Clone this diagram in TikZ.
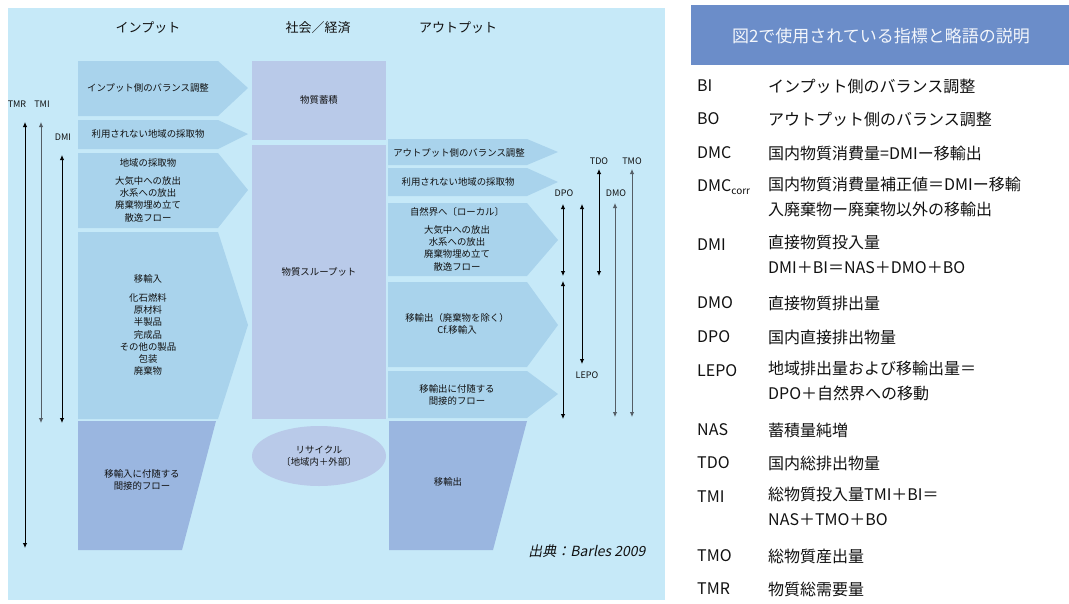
\documentclass[tikz,border=0pt]{standalone}
\usepackage{fontspec}
\setmainfont{Noto Sans CJK JP}
\newfontfamily\slfont{Noto Sans CJK JP}[FakeSlant=0.2]
\usetikzlibrary{arrows.meta,shapes.geometric}
\definecolor{panel}{HTML}{C6E9F8}
\definecolor{lightarr}{HTML}{A9D3EC}
\definecolor{center}{HTML}{B9CAE9}
\definecolor{darkbox}{HTML}{9AB6E0}
\definecolor{titlebox}{HTML}{6B8DC9}
\definecolor{txtc}{HTML}{111111}
\definecolor{grayline}{HTML}{555E66}
\begin{document}
\begin{tikzpicture}[x=1pt,y=-1pt,
  lt/.style={fill=lightarr,draw=none},
  ctr/.style={fill=center,draw=none},
  dk/.style={fill=darkbox,draw=none},
  txt/.style={font=\fontsize{9.4}{12.3}\selectfont,align=center,inner sep=0pt,text=txtc},
  hdr/.style={font=\fontsize{13}{15}\selectfont,inner sep=0pt,text=txtc},
  lbl/.style={font=\fontsize{9}{10}\selectfont,inner sep=0pt,text=txtc},
  dbl/.style={{Latex[length=5pt,width=4.5pt]}-{Latex[length=5pt,width=4.5pt]},line width=0.9pt},
  dblg/.style={dbl,draw=grayline},
  abbr/.style={font=\fontsize{16}{18}\selectfont,anchor=west,inner sep=0pt,text=txtc},
  desc/.style={font=\fontsize{16}{25}\selectfont,anchor=north west,align=left,inner sep=0pt,text=txtc}]
\useasboundingbox (0,0) rectangle (1069,603);
\fill[white] (0,0) rectangle (1069,603);
\fill[panel] (8,8) rectangle (665,600);

% headers
\node[hdr] (hIn) at (148,28) {インプット};
\node[hdr] (hSoc) at (318,28) {社会／経済};
\node[hdr] (hOut) at (458,28) {アウトプット};

% input arrows
\fill[lt] (78,61) -- (218,61) -- (248,88) -- (218,116) -- (78,116) -- cycle;
\node[txt] (in1) at (148,88) {インプット側のバランス調整};
\fill[lt] (78,120) -- (218,120) -- (248,134) -- (218,149) -- (78,149) -- cycle;
\node[txt] (in2) at (148,134) {利用されない地域の採取物};
\fill[lt] (78,153) -- (218,153) -- (248,190) -- (218,228) -- (78,228) -- cycle;
\node[txt] (in3a) at (148,163) {地域の採取物};
\node[txt,anchor=north] (in3b) at (148,176) {大気中への放出\\水系への放出\\廃棄物埋め立て\\散逸フロー};
\fill[lt] (78,232) -- (218,232) -- (248,325) -- (218,419) -- (78,419) -- cycle;
\node[txt] (in4a) at (148,279) {移輸入};
\node[txt,anchor=north] (in4b) at (148,293) {化石燃料\\原材料\\半製品\\完成品\\その他の製品\\包装\\廃棄物};
\fill[dk] (78,421) -- (216,421) -- (182,550) -- (78,550) -- cycle;
\node[txt] (in5) at (142,480) {移輸入に付随する\\間接的フロー};

% centre
\fill[ctr] (252,61) rectangle (386,140);
\node[txt] (stock) at (319,100) {物質蓄積};
\fill[ctr] (252,145) rectangle (386,419);
\node[txt] (thru) at (319,272) {物質スループット};
\node[ellipse,fill=center,minimum width=134pt,minimum height=60pt,inner sep=0pt] (recyc) at (319,456) {};
\node[txt] (recyct) at (319,456) {リサイクル\\〔地域内＋外部〕};

% output arrows
\fill[lt] (388,139) -- (527,139) -- (558,152) -- (527,165) -- (388,165) -- cycle;
\node[txt] (out1) at (459,153) {アウトプット側のバランス調整};
\fill[lt] (388,168) -- (527,168) -- (558,182) -- (527,196) -- (388,196) -- cycle;
\node[txt] (out2) at (458,182) {利用されない地域の採取物};
\fill[lt] (388,203) -- (527,203) -- (558,240) -- (527,276) -- (388,276) -- cycle;
\node[txt] (out3a) at (457,212) {自然界へ〔ローカル〕};
\node[txt,anchor=north] (out3b) at (457,225) {大気中への放出\\水系への放出\\廃棄物埋め立て\\散逸フロー};
\fill[lt] (388,282) -- (527,282) -- (558,325) -- (527,367) -- (388,367) -- cycle;
\node[txt] (out4) at (457,324) {移輸出（廃棄物を除く）\\Cf.移輸入};
\fill[lt] (388,371) -- (527,371) -- (558,394) -- (527,418) -- (388,418) -- cycle;
\node[txt] (out5) at (457,395) {移輸出に付随する\\間接的フロー};
\fill[dk] (389,421) -- (527,421) -- (493,550) -- (389,550) -- cycle;
\node[txt] (out6) at (448,482) {移輸出};

% left indicator arrows
\node[lbl] (lTMR) at (17,104) {TMR};
\node[lbl] (lTMI) at (42,104) {TMI};
\node[lbl] (lDMI) at (63,137) {DMI};
\coordinate (tmrT) at (25,122); \coordinate (tmrB) at (25,548);
\coordinate (tmiT) at (41,122); \coordinate (tmiB) at (41,423);
\coordinate (dmiT) at (62,155); \coordinate (dmiB) at (62,423);
\draw[dbl] (tmrT) -- (tmrB);
\draw[dblg] (tmiT) -- (tmiB);
\draw[dbl] (dmiT) -- (dmiB);

% right indicator arrows
\node[lbl] (lDPO) at (564,193) {DPO};
\node[lbl] (lLEPO) at (587,375) {LEPO};
\node[lbl] (lTDO) at (599,161) {TDO};
\node[lbl] (lDMO) at (616,193) {DMO};
\node[lbl] (lTMO) at (632,161) {TMO};
\coordinate (dpoT) at (563,204); \coordinate (dpoB) at (563,276);
\coordinate (lepoT) at (563,281); \coordinate (lepoB) at (563,419);
\coordinate (mT) at (582,204); \coordinate (mB) at (582,364);
\coordinate (tdoT) at (599,169); \coordinate (tdoB) at (599,276);
\coordinate (dmoT) at (615,203); \coordinate (dmoB) at (615,417);
\coordinate (tmoT) at (632,169); \coordinate (tmoB) at (632,417);
\draw[dbl] (dpoT) -- (dpoB);
\draw[dbl] (lepoT) -- (lepoB);
\draw[dbl] (mT) -- (mB);
\draw[dbl] (tdoT) -- (tdoB);
\draw[dblg] (dmoT) -- (dmoB);
\draw[dblg] (tmoT) -- (tmoB);

\node[font=\slfont\fontsize{14}{16}\selectfont,inner sep=0pt,text=txtc] (src) at (587,551) {出典：Barles 2009};

% legend
\fill[titlebox] (691,5) rectangle (1069,65);
\node[font=\fontsize{17}{20}\selectfont,text=white!92!titlebox,inner sep=0pt] (ltitle) at (881,36) {図2で使用されている指標と略語の説明};

\node[abbr] (aBI) at (697,86) {BI};
\node[abbr] (dBI) at (768,86) {インプット側のバランス調整};
\node[abbr] (aBO) at (697,119) {BO};
\node[abbr] (dBO) at (768,119) {アウトプット側のバランス調整};
\node[abbr] (aDMC) at (697,153) {DMC};
\node[abbr] (dDMC) at (768,153) {国内物質消費量=DMIー移輸出};
\node[abbr] (aDMCc) at (697,187) {DMC\raisebox{-0.3ex}{\fontsize{10}{10}\selectfont corr}};
\node[desc] (dDMCc) at (768,177) {国内物質消費量補正値＝DMIー移輸\\入廃棄物ー廃棄物以外の移輸出};
\node[abbr] (aDMI) at (697,245) {DMI};
\node[desc] (dDMI) at (768,235) {直接物質投入量\\DMI＋BI＝NAS＋DMO＋BO};
\node[abbr] (aDMO) at (697,303) {DMO};
\node[abbr] (dDMO) at (768,303) {直接物質排出量};
\node[abbr] (aDPO) at (697,337) {DPO};
\node[abbr] (dDPO) at (768,337) {国内直接排出物量};
\node[abbr] (aLEPO) at (697,371) {LEPO};
\node[desc] (dLEPO) at (768,361) {地域排出量および移輸出量＝\\DPO＋自然界への移動};
\node[abbr] (aNAS) at (697,430) {NAS};
\node[abbr] (dNAS) at (768,430) {蓄積量純増};
\node[abbr] (aTDO) at (697,463) {TDO};
\node[abbr] (dTDO) at (768,463) {国内総排出物量};
\node[abbr] (aTMI) at (697,497) {TMI};
\node[desc] (dTMI) at (768,487) {総物質投入量TMI＋BI＝\\NAS＋TMO＋BO};
\node[abbr] (aTMO) at (697,556) {TMO};
\node[abbr] (dTMO) at (768,556) {総物質産出量};
\node[abbr] (aTMR) at (697,589) {TMR};
\node[abbr] (dTMR) at (768,589) {物質総需要量};
\end{tikzpicture}
\end{document}
